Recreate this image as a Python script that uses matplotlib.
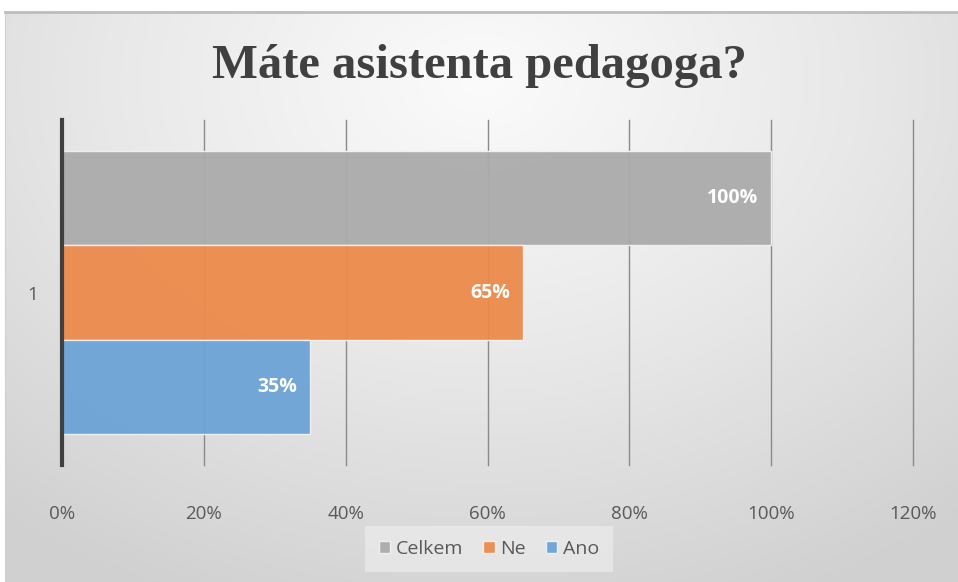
import numpy as np
import matplotlib.pyplot as plt
from matplotlib.colors import LinearSegmentedColormap

# Data
categories = ["1"]
series_names = ["Celkem", "Ne", "Ano"]
series_values = [1.00, 0.65, 0.35]
series_colors = ["#ABABAB", "#EC8A4B", "#6BA3D6"]
x_ticks = [0, 0.2, 0.4, 0.6, 0.8, 1.0, 1.2]
x_tick_labels = ["0%", "20%", "40%", "60%", "80%", "100%", "120%"]
title = "Máte asistenta pedagoga?"

W, H = 958, 582
fig = plt.figure(figsize=(W / 100, H / 100), dpi=100)
fig.patch.set_facecolor("white")

# Chart area background: radial gradient, light at top centre
bx0, by0 = 5 / W, 0.0
bg = fig.add_axes([bx0, by0, 1 - bx0, 1 - 12 / H], zorder=0)
yy, xx = np.mgrid[0:1:300j, 0:1:500j]
r = np.sqrt(((xx - 0.5) / 0.8) ** 2 + ((yy - 0.12) / 1.0) ** 2)
cmap = LinearSegmentedColormap.from_list("bg", ["#FBFBFB", "#E8E8E8", "#D0D0D0"])
bg.imshow(r, cmap=cmap, vmin=0, vmax=1.0, aspect="auto", extent=[0, 1, 1, 0])
bg.set_xlim(0, 1)
bg.set_ylim(1, 0)
bg.set_xticks([])
bg.set_yticks([])
for s in bg.spines.values():
    s.set_visible(False)
bg.spines["top"].set_visible(True)
bg.spines["top"].set_color("#BDBDBD")
bg.spines["top"].set_linewidth(2)
bg.spines["left"].set_visible(True)
bg.spines["left"].set_color("#D0D0D0")

# Plot area
left, right, top, bottom = 62, 913, 120, 465
ax = fig.add_axes([left / W, 1 - bottom / H, (right - left) / W, (bottom - top) / H], zorder=1)
ax.patch.set_alpha(0)

bar_h = 0.273
offsets = [bar_h, 0, -bar_h]
for name, val, col, off in zip(series_names, series_values, series_colors, offsets):
    ax.barh(off, val, height=bar_h, color=col, edgecolor="#F2F2F2", linewidth=1,
            alpha=0.95, label=name, zorder=3)
    ax.text(val - 0.018, off, f"{val:.0%}", ha="right", va="center", color="white",
            fontsize=14, fontweight="bold", family="Open Sans", zorder=4)

ax.set_xlim(0, 1.2)
ax.set_ylim(-0.5, 0.5)
ax.set_xticks(x_ticks)
ax.set_xticklabels(x_tick_labels)
ax.set_yticks([0])
ax.set_yticklabels(categories)
ax.tick_params(axis="both", length=0, labelsize=13.5, colors="#595959")
ax.tick_params(axis="x", pad=29)
ax.tick_params(axis="y", pad=17)
for lbl in ax.get_xticklabels() + ax.get_yticklabels():
    lbl.set_family("Open Sans")
ax.grid(axis="x", color="#8A8A8A", linewidth=1, zorder=1)
for gl in ax.get_xgridlines():
    gl.set_clip_on(False)
ax.set_axisbelow(True)
for s in ["top", "right", "bottom"]:
    ax.spines[s].set_visible(False)
ax.spines["left"].set_color("#404040")
ax.spines["left"].set_linewidth(3)
ax.spines["left"].set_zorder(5)

fig.text(0.5, 1 - 66 / H, title, ha="center", va="center", fontsize=35,
         fontweight="bold", family="Liberation Serif", color="#404040")

handles, labels = ax.get_legend_handles_labels()
leg = fig.legend(handles, labels, loc="center", bbox_to_anchor=(489 / W, 1 - 549 / H),
                 ncol=3, frameon=True, handlelength=0.6, handleheight=0.6,
                 handletextpad=0.3, columnspacing=1.0, borderpad=0.4,
                 prop={"family": "Open Sans", "size": 14})
leg.get_frame().set_facecolor("#F0F0F0")
leg.get_frame().set_alpha(0.6)
leg.get_frame().set_edgecolor("none")
leg.get_frame().set_boxstyle("square")
for t in leg.get_texts():
    t.set_color("#595959")

fig.savefig("out.png", dpi=100)
